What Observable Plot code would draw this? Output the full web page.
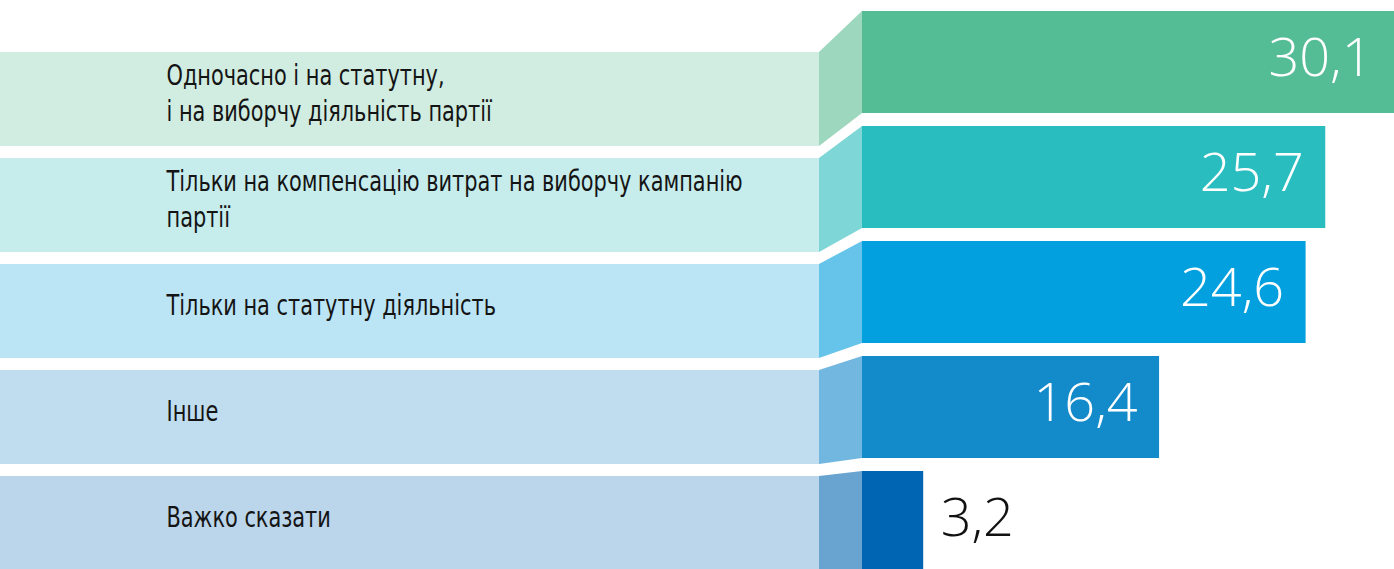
<!DOCTYPE html>
<html><head><meta charset="utf-8">
<script src="https://cdn.jsdelivr.net/npm/d3@7"></script>
<script src="https://cdn.jsdelivr.net/npm/@observablehq/plot@0.6"></script>
<style>
html,body{margin:0;padding:0;background:#fff;overflow:hidden}
</style>
</head><body><div id="chart"></div>
<script>
const categories = [
  "Одночасно і на статутну,\nі на виборчу діяльність партії",
  "Тільки на компенсацію витрат на виборчу кампанію\nпартії",
  "Тільки на статутну діяльність",
  "Інше",
  "Важко сказати"
];
const values = [30.1, 25.7, 24.6, 16.4, 3.2];
const valueLabels = ["30,1", "25,7", "24,6", "16,4", "3,2"];
const panelColors = ["#d1ece1", "#c6ecec", "#bbe4f5", "#c0ddef", "#bbd5ea"];
const sideColors  = ["#9dd7be", "#7fd6d6", "#66c4ea", "#72b7df", "#69a4d0"];
const barColors   = ["#55bd95", "#29bdc0", "#02a0df", "#138aca", "#0066b3"];

const W = 1394, H = 569;
const panelRight = 819, barLeft = 862, labelX = 166;
const panelBand = d3.scaleBand().domain(categories).range([52, 570]).paddingInner(0.113);
const barBand = d3.scaleBand().domain(categories).range([11, 573]).paddingInner(0.113);
const xVal = d3.scaleLinear().domain([0, 30]).range([866, 866 + 30 * 17.87]);

const rows = categories.map((cat, i) => ({
  cat, value: values[i], label: valueLabels[i],
  panel: panelColors[i], side: sideColors[i], bar: barColors[i],
  py1: panelBand(cat), py2: panelBand(cat) + panelBand.bandwidth(),
  by1: barBand(cat), by2: barBand(cat) + barBand.bandwidth(),
  bx2: xVal(values[i])
}));
const sidePts = rows.flatMap(r => [
  {cat: r.cat, x: panelRight, y1: r.py1, y2: r.py2, color: r.side},
  {cat: r.cat, x: barLeft, y1: r.by1, y2: r.by2, color: r.side}
]);
const inside = rows.filter(r => r.value > 5);
const outside = rows.filter(r => r.value <= 5);
const numFont = "'Open Sans', 'Noto Sans', sans-serif";

const chart = Plot.plot({
  width: W, height: H,
  margin: 0,
  x: {type: "identity", axis: null},
  y: {type: "identity", axis: null},
  color: {type: "identity"},
  style: {background: "#fff"},
  marks: [
    Plot.rect(rows, {x1: 0, x2: panelRight, y1: "py1", y2: "py2", fill: "panel"}),
    Plot.areaY(sidePts, {x: "x", y1: "y1", y2: "y2", z: "cat", fill: "color"}),
    Plot.rect(rows, {x1: barLeft, x2: "bx2", y1: "by1", y2: "by2", fill: "bar"}),
    Plot.text(rows, {x: labelX, y: r => (r.py1 + r.py2) / 2, text: "cat", textAnchor: "start",
      fontSize: 29, lineHeight: 1.24, fill: "#141414", className: "lbl",
      fontFamily: "'DejaVu Sans Condensed', 'DejaVu Sans', sans-serif"}),
    Plot.text(inside, {x: r => Math.min(r.bx2, W) - 22, y: r => (r.by1 + r.by2) / 2 - 4, text: "label",
      textAnchor: "end", fontSize: 54, fontWeight: 300, fill: "#fff", fontFamily: numFont}),
    Plot.text(outside, {x: r => r.bx2 + 17, y: r => (r.by1 + r.by2) / 2 - 4, text: "label",
      textAnchor: "start", fontSize: 54, fontWeight: 300, fill: "#111", fontFamily: numFont})
  ]
});
// narrow the label glyphs horizontally (condensed face look), anchored at the label's left edge, and lift slightly
d3.select(chart).selectAll("g.lbl").each(function() {
  const g = d3.select(this);
  const t = g.attr("transform") || "";
  g.attr("transform", `${t} translate(${labelX},-8) scale(0.80,1) translate(${-labelX},0)`);
});
document.getElementById("chart").appendChild(chart);
</script>
</body></html>
